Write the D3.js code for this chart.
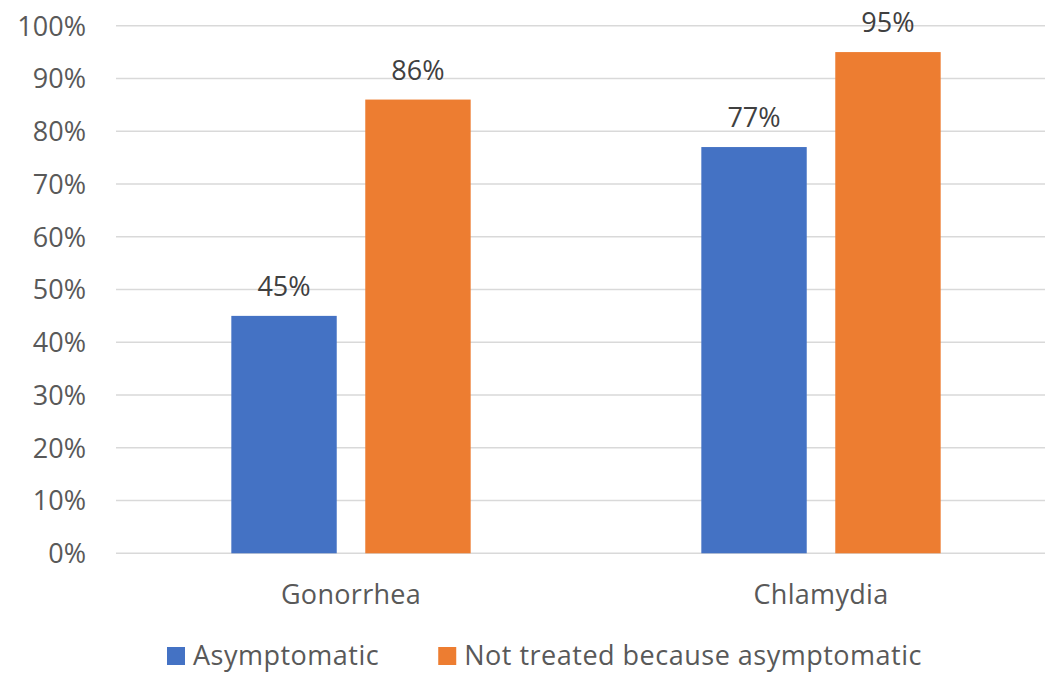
<!DOCTYPE html>
<html>
<head>
<meta charset="utf-8">
<script src="https://cdn.jsdelivr.net/npm/d3@7"></script>
<style>
  html, body { margin: 0; padding: 0; background: #fff; }
  svg { display: block; font-family: "Open Sans", sans-serif; }
</style>
</head>
<body>
<svg id="chart" width="1045" height="673"></svg>
<script>
// Chart data
const categories = ["Gonorrhea", "Chlamydia"];
const seriesNames = ["Asymptomatic", "Not treated because asymptomatic"];
const asymptomatic = [45, 77];
const notTreated = [86, 95];
const yTicks = [0, 10, 20, 30, 40, 50, 60, 70, 80, 90, 100];
const colors = ["#4472C4", "#ED7D31"];

const seriesValues = [asymptomatic, notTreated];
const rows = categories.map((c, i) => ({
  category: c,
  values: seriesNames.map((s, j) => ({ series: s, value: seriesValues[j][i], color: colors[j] }))
}));

const svg = d3.select("#chart");
const plot = { left: 116, right: 1056, top: 25.7, bottom: 553.3 };

const y = d3.scaleLinear().domain([0, 100]).range([plot.bottom, plot.top]);
const x0 = d3.scaleBand().domain(categories).range([plot.left, plot.right]).padding(0);
const x1 = d3.scaleBand().domain(seriesNames).range([0, x0.bandwidth()])
  .paddingInner(0.213).paddingOuter(0.861);

// Gridlines
svg.append("g")
  .selectAll("line")
  .data(yTicks)
  .join("line")
  .attr("x1", plot.left)
  .attr("x2", plot.right)
  .attr("y1", d => y(d))
  .attr("y2", d => y(d))
  .attr("stroke", "#d9d9d9")
  .attr("stroke-width", 1.4);

// Y axis labels
const yAxis = d3.axisLeft(y).tickValues(yTicks).tickFormat(d => d + "%").tickSize(0).tickPadding(0);
const yg = svg.append("g").attr("transform", `translate(86,0)`).call(yAxis);
yg.select(".domain").remove();
yg.selectAll("text")
  .attr("font-family", "Open Sans, sans-serif")
  .attr("font-size", 27)
  .attr("fill", "#595959")
  .attr("dy", "0.35em");

// Bars
const groups = svg.append("g")
  .selectAll("g")
  .data(rows)
  .join("g")
  .attr("transform", d => `translate(${x0(d.category)},0)`);

groups.selectAll("rect")
  .data(d => d.values)
  .join("rect")
  .attr("x", d => x1(d.series))
  .attr("width", x1.bandwidth())
  .attr("y", d => y(d.value))
  .attr("height", d => y(0) - y(d.value))
  .attr("fill", d => d.color);

// Value labels
groups.selectAll("text")
  .data(d => d.values)
  .join("text")
  .attr("x", d => x1(d.series) + x1.bandwidth() / 2)
  .attr("y", d => y(d.value) - 20)
  .attr("text-anchor", "middle")
  .attr("font-size", 27)
  .attr("fill", "#404040")
  .text(d => d.value + "%");

// Category labels
const xAxis = d3.axisBottom(x0).tickSize(0).tickPadding(0);
const xg = svg.append("g").attr("transform", `translate(0,604)`).call(xAxis);
xg.select(".domain").remove();
xg.selectAll("text")
  .attr("font-family", "Open Sans, sans-serif")
  .attr("font-size", 27)
  .attr("letter-spacing", "0.3px")
  .attr("fill", "#595959")
  .attr("y", 0)
  .attr("dy", 0);

// Legend
const legend = svg.append("g").attr("transform", "translate(167,0)");
let lx = 0;
seriesNames.forEach((name, i) => {
  const item = legend.append("g").attr("transform", `translate(${lx},0)`);
  item.append("rect")
    .attr("x", 0).attr("y", 647)
    .attr("width", 18).attr("height", 18)
    .attr("fill", colors[i]);
  const t = item.append("text")
    .attr("x", 26).attr("y", 665)
    .attr("font-size", 27)
    .attr("letter-spacing", "0.5px")
    .attr("fill", "#595959")
    .text(name);
  lx += 26 + t.node().getComputedTextLength() + 59;
});
</script>
</body>
</html>
